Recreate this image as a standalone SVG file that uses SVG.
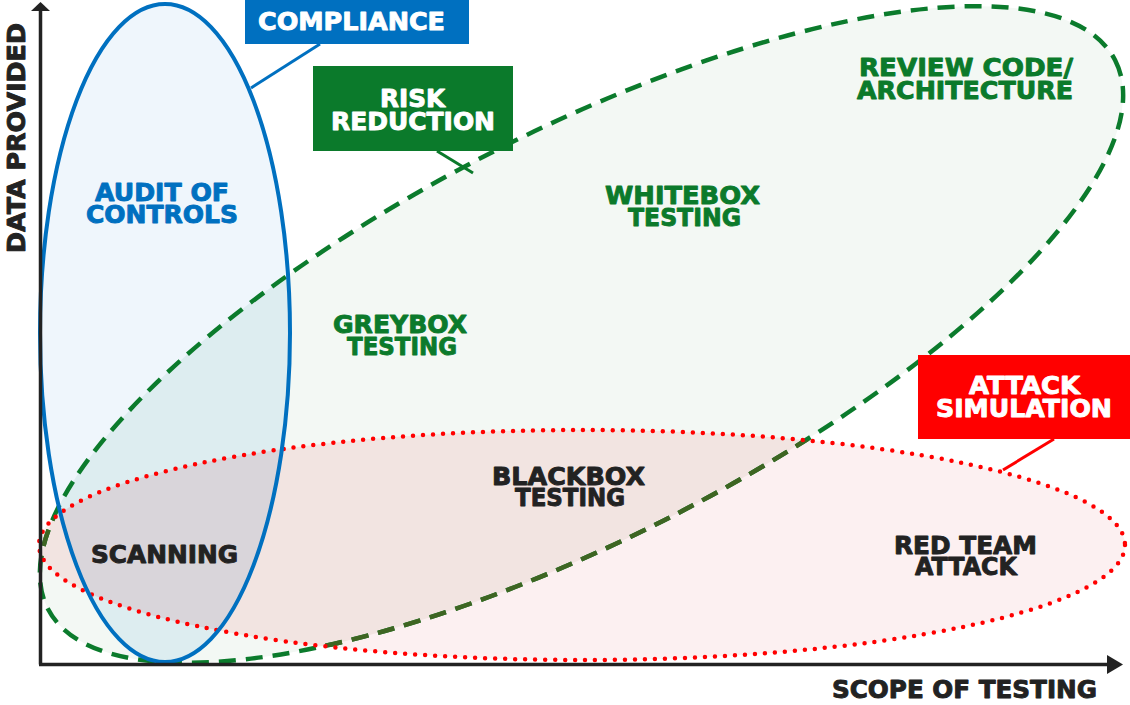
<svg xmlns="http://www.w3.org/2000/svg" width="1130" height="705" viewBox="0 0 1130 705">
<style>
.t{font-family:'DejaVu Sans','Liberation Sans',sans-serif;font-weight:700;font-size:24px;text-anchor:middle;stroke-width:0.9;stroke-linejoin:round}
.wt{fill:#ffffff;stroke:#ffffff}
.bl{fill:#0070C0;stroke:#0070C0}
.gr{fill:#0B7A2B;stroke:#0B7A2B}
.dk{fill:#222222;stroke:#222222}
.axis{stroke:#222222;stroke-width:3.5;fill:none}
.gstroke{fill:none;stroke:#0B7B2C;stroke-width:4.5;stroke-dasharray:17 10}
.rstroke{fill:none;stroke:#FF0000;stroke-width:4.5;stroke-dasharray:0 10;stroke-linecap:round}
.bstroke{fill:none;stroke:#0070C0;stroke-width:4}
</style>
<defs>
<clipPath id="clipGreen"><ellipse cx="581.5" cy="334.5" rx="600" ry="203" transform="rotate(-27.2 581.5 334.5)"/></clipPath>
<clipPath id="clipRed"><ellipse cx="582" cy="545" rx="543" ry="115"/></clipPath>
</defs>
<rect width="1130" height="705" fill="#ffffff"/>

<!-- region fills -->
<g id="fills">
<ellipse cx="581.5" cy="334.5" rx="600" ry="203" transform="rotate(-27.2 581.5 334.5)" fill="#F3F8F4"/>
<ellipse cx="582" cy="545" rx="543" ry="115" fill="#FCF0F1"/>
<ellipse cx="582" cy="545" rx="543" ry="115" fill="#F2E4E1" clip-path="url(#clipGreen)"/>
<ellipse cx="165" cy="333" rx="125" ry="329" fill="#EFF6FC"/>
<ellipse cx="165" cy="333" rx="125" ry="329" fill="#DDEDF0" clip-path="url(#clipGreen)"/>
<ellipse cx="165" cy="333" rx="125" ry="329" fill="#D9D5DA" clip-path="url(#clipRed)"/>
</g>

<!-- outlines -->
<g id="risk-reduction-area">
<ellipse class="gstroke" cx="581.5" cy="334.5" rx="600" ry="203" transform="rotate(-27.2 581.5 334.5)"/>
<g clip-path="url(#clipRed)">
<ellipse class="gstroke" style="stroke:#3E6522" cx="581.5" cy="334.5" rx="600" ry="203" transform="rotate(-27.2 581.5 334.5)"/>
</g>
</g>
<g id="attack-simulation-area">
<ellipse class="rstroke" cx="582" cy="545" rx="543" ry="115"/>
</g>
<g id="compliance-area">
<ellipse class="bstroke" cx="165" cy="333" rx="125" ry="329"/>
</g>

<!-- axes -->
<g id="axes">
<line class="axis" x1="40.5" y1="664.5" x2="40.5" y2="9"/>
<polygon points="40.5,2 31,11 50,11" fill="#222222"/>
<line class="axis" x1="39" y1="664.5" x2="1110" y2="664.5"/>
<polygon points="1123,664.5 1107,655 1107,674" fill="#222222"/>
<text class="t dk" transform="translate(25,138) rotate(-90)" x="0" y="0" textLength="230" lengthAdjust="spacingAndGlyphs">DATA PROVIDED</text>
<text class="t dk" x="964.5" y="698" textLength="265" lengthAdjust="spacingAndGlyphs">SCOPE OF TESTING</text>
</g>

<!-- connectors -->
<g id="connectors">
<line x1="320" y1="44" x2="251" y2="88" stroke="#0070C0" stroke-width="3"/>
<line x1="437" y1="151" x2="473" y2="173" stroke="#0B7A2B" stroke-width="3"/>
<line x1="1054" y1="439" x2="1003" y2="470" stroke="#FF0000" stroke-width="3"/>
</g>

<!-- callout labels -->
<g id="compliance-label">
<rect x="245" y="0" width="224" height="44" fill="#0070C0"/>
<text class="t wt" x="351.5" y="30" textLength="187" lengthAdjust="spacingAndGlyphs">COMPLIANCE</text>
</g>
<g id="risk-reduction-label">
<rect x="313" y="66" width="200" height="85" fill="#0B7A2B"/>
<text class="t wt" x="412.5" y="107" textLength="65" lengthAdjust="spacingAndGlyphs">RISK</text>
<text class="t wt" x="413" y="130" textLength="164" lengthAdjust="spacingAndGlyphs">REDUCTION</text>
</g>
<g id="attack-simulation-label">
<rect x="918" y="355" width="212" height="84" fill="#FF0000"/>
<text class="t wt" x="1024.5" y="394" textLength="111" lengthAdjust="spacingAndGlyphs">ATTACK</text>
<text class="t wt" x="1024" y="417" textLength="176" lengthAdjust="spacingAndGlyphs">SIMULATION</text>
</g>

<!-- inner labels -->
<g id="audit-of-controls">
<text class="t bl" x="162" y="201" textLength="134" lengthAdjust="spacingAndGlyphs">AUDIT OF</text>
<text class="t bl" x="162" y="223" textLength="152" lengthAdjust="spacingAndGlyphs">CONTROLS</text>
</g>
<g id="review-code">
<text class="t gr" x="966" y="76" textLength="214" lengthAdjust="spacingAndGlyphs">REVIEW CODE/</text>
<text class="t gr" x="965" y="99" textLength="216" lengthAdjust="spacingAndGlyphs">ARCHITECTURE</text>
</g>
<g id="whitebox-testing">
<text class="t gr" x="682.5" y="204" textLength="155" lengthAdjust="spacingAndGlyphs">WHITEBOX</text>
<text class="t gr" x="684.5" y="226" textLength="113" lengthAdjust="spacingAndGlyphs">TESTING</text>
</g>
<g id="greybox-testing">
<text class="t gr" x="400" y="333" textLength="134" lengthAdjust="spacingAndGlyphs">GREYBOX</text>
<text class="t gr" x="402" y="355" textLength="110" lengthAdjust="spacingAndGlyphs">TESTING</text>
</g>
<g id="blackbox-testing">
<text class="t dk" x="568.5" y="485" textLength="153" lengthAdjust="spacingAndGlyphs">BLACKBOX</text>
<text class="t dk" x="570" y="506" textLength="110" lengthAdjust="spacingAndGlyphs">TESTING</text>
</g>
<g id="scanning">
<text class="t dk" x="164.5" y="563" textLength="147" lengthAdjust="spacingAndGlyphs">SCANNING</text>
</g>
<g id="red-team-attack">
<text class="t dk" x="965.5" y="554" textLength="143" lengthAdjust="spacingAndGlyphs">RED TEAM</text>
<text class="t dk" x="966" y="575" textLength="102" lengthAdjust="spacingAndGlyphs">ATTACK</text>
</g>
</svg>
